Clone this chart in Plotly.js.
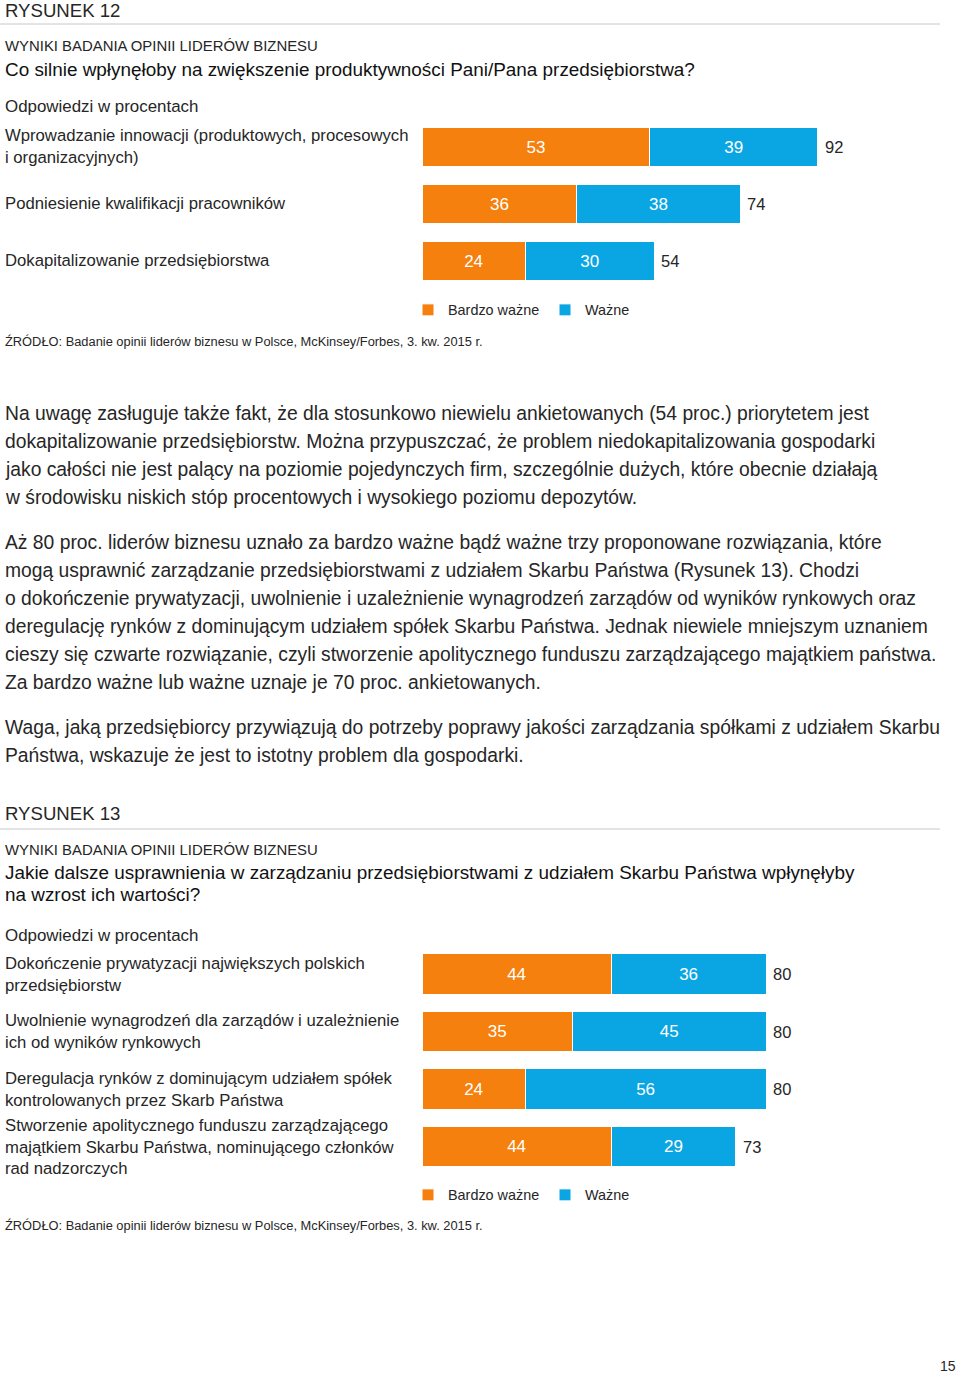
<!DOCTYPE html>
<html><head><meta charset="utf-8">
<script src="https://cdn.plot.ly/plotly-3.0.1.min.js"></script>
<style>body{margin:0;background:#fff}#chart{width:960px;height:1375px}</style>
</head><body><div id="chart"></div>
<script>
// ---- data ----
const cats1 = ["Wprowadzanie innowacji (produktowych, procesowych<br>i organizacyjnych)", "Podniesienie kwalifikacji pracowników", "Dokapitalizowanie przedsiębiorstwa"];
const bardzo1 = [53, 36, 24];
const wazne1 = [39, 38, 30];
const total1 = [92, 74, 54];
const cats2 = ["Dokończenie prywatyzacji największych polskich<br>przedsiębiorstw", "Uwolnienie wynagrodzeń dla zarządów i uzależnienie<br>ich od wyników rynkowych", "Deregulacja rynków z dominującym udziałem spółek<br>kontrolowanych przez Skarb Państwa", "Stworzenie apolitycznego funduszu zarządzającego<br>majątkiem Skarbu Państwa, nominującego członków<br>rad nadzorczych"];
const bardzo2 = [44, 35, 24, 44];
const wazne2 = [36, 45, 56, 29];
const total2 = [80, 80, 80, 73];
const seriesNames = ["Bardzo ważne", "Ważne"];

const W = 960, H = 1375;
const px = x => x / W, py = y => 1 - y / H;
const ORANGE = "#F5800E", BLUE = "#0AA6E3";
const FONT = "Liberation Sans, Arial, sans-serif";
const TXT = "#262626";

function barTrace(vals, cats, name, color, xa, ya, leg) {
  return {
    type: "bar", orientation: "h", x: vals, y: cats.map((c, i) => i), name: name,
    xaxis: xa, yaxis: ya, legend: leg, width: 0.7,
    marker: {color: color, line: {color: "#fff", width: 1}},
    text: vals.map(String), textposition: "inside", insidetextanchor: "middle",
    textfont: {color: "#fff", size: 17, family: FONT}, hoverinfo: "skip", cliponaxis: false
  };
}
const data = [
  barTrace(bardzo1, cats1, seriesNames[0], ORANGE, "x", "y", "legend"),
  barTrace(wazne1, cats1, seriesNames[1], BLUE, "x", "y", "legend"),
  barTrace(bardzo2, cats2, seriesNames[0], ORANGE, "x2", "y2", "legend2"),
  barTrace(wazne2, cats2, seriesNames[1], BLUE, "x2", "y2", "legend2")
];

const ann = [];
function txt(t, x, y, size, color, extra) {
  ann.push(Object.assign({text: t, x: px(x), y: py(y), xref: "paper", yref: "paper", xanchor: "left", yanchor: "middle",
    showarrow: false, align: "left", font: {family: FONT, size: size, color: color || TXT}}, extra || {}));
}
const CAT = 16.7;
// chart 1 header
txt("RYSUNEK 12", 3, 10.5, 18.6);
txt("WYNIKI BADANIA OPINII LIDERÓW BIZNESU", 3, 46, 14.9);
txt("Co silnie wpłynęłoby na zwiększenie produktywności Pani/Pana przedsiębiorstwa?", 3, 69, 18.9, "#111");
txt("Odpowiedzi w procentach", 3, 107, 16.9);
txt("ŹRÓDŁO: Badanie opinii liderów biznesu w Polsce, McKinsey/Forbes, 3. kw. 2015 r.", 3, 341, 12.85);
// category labels & totals
cats1.forEach((c, i) => {
  ann.push({text: c, x: px(3), xref: "paper", y: i, yref: "y", xanchor: "left", yanchor: "middle", align: "left", showarrow: false, font: {family: FONT, size: CAT, color: TXT}});
  ann.push({text: String(total1[i]), x: total1[i], xref: "x", y: i, yref: "y", xanchor: "left", yanchor: "middle", xshift: 5, showarrow: false, font: {family: FONT, size: 16.5, color: TXT}});
});
cats2.forEach((c, i) => {
  ann.push({text: c, x: px(3), xref: "paper", y: i, yref: "y2", xanchor: "left", yanchor: "middle", align: "left", showarrow: false, font: {family: FONT, size: CAT, color: TXT}});
  ann.push({text: String(total2[i]), x: total2[i], xref: "x2", y: i, yref: "y2", xanchor: "left", yanchor: "middle", xshift: 5, showarrow: false, font: {family: FONT, size: 16.5, color: TXT}});
});
// body text
const p1 = ["Na uwagę zasługuje także fakt, że dla stosunkowo niewielu ankietowanych (54 proc.) priorytetem jest",
  "dokapitalizowanie przedsiębiorstw. Można przypuszczać, że problem niedokapitalizowania gospodarki",
  "jako całości nie jest palący na poziomie pojedynczych firm, szczególnie dużych, które obecnie działają",
  "w środowisku niskich stóp procentowych i wysokiego poziomu depozytów."];
const p2 = ["Aż 80 proc. liderów biznesu uznało za bardzo ważne bądź ważne trzy proponowane rozwiązania, które",
  "mogą usprawnić zarządzanie przedsiębiorstwami z udziałem Skarbu Państwa (Rysunek 13). Chodzi",
  "o dokończenie prywatyzacji, uwolnienie i uzależnienie wynagrodzeń zarządów od wyników rynkowych oraz",
  "deregulację rynków z dominującym udziałem spółek Skarbu Państwa. Jednak niewiele mniejszym uznaniem",
  "cieszy się czwarte rozwiązanie, czyli stworzenie apolitycznego funduszu zarządzającego majątkiem państwa.",
  "Za bardzo ważne lub ważne uznaje je 70 proc. ankietowanych."];
const p3 = ["Waga, jaką przedsiębiorcy przywiązują do potrzeby poprawy jakości zarządzania spółkami z udziałem Skarbu",
  "Państwa, wskazuje że jest to istotny problem dla gospodarki."];
const BODY = 19.3;
p1.forEach((l, i) => txt(l, 3, 413 + 28 * i, BODY));
p2.forEach((l, i) => txt(l, 3, 542 + 28 * i, BODY));
p3.forEach((l, i) => txt(l, 3, 727 + 28 * i, BODY));
// chart 2 header
txt("RYSUNEK 13", 3, 813, 18.6);
txt("WYNIKI BADANIA OPINII LIDERÓW BIZNESU", 3, 850, 14.9);
txt("Jakie dalsze usprawnienia w zarządzaniu przedsiębiorstwami z udziałem Skarbu Państwa wpłynęłyby", 3, 872, 18.9, "#111");
txt("na wzrost ich wartości?", 3, 894, 18.9, "#111");
txt("Odpowiedzi w procentach", 3, 935, 16.9);
txt("ŹRÓDŁO: Badanie opinii liderów biznesu w Polsce, McKinsey/Forbes, 3. kw. 2015 r.", 3, 1225, 12.85);
txt("15", 958, 1366, 14, TXT, {xanchor: "right"});

const xdom = [px(422), px(422 + 430)];
const axX = {domain: xdom, range: [0, 100], visible: false, fixedrange: true};
const legFont = {family: FONT, size: 14.4, color: TXT};
const layout = {
  width: W, height: H, margin: {l: 0, r: 0, t: 0, b: 0},
  paper_bgcolor: "#fff", plot_bgcolor: "rgba(0,0,0,0)",
  barmode: "stack", bargap: 0.3,
  font: {family: FONT, color: TXT},
  xaxis: Object.assign({}, axX, {anchor: "y"}),
  yaxis: {domain: [py(289.5), py(118.5)], range: [2.5, -0.5], visible: false, anchor: "x", fixedrange: true},
  xaxis2: Object.assign({}, axX, {anchor: "y2"}),
  yaxis2: {domain: [py(1175.25), py(945.25)], range: [3.5, -0.5], visible: false, anchor: "x2", fixedrange: true},
  legend: {orientation: "h", x: px(408), y: py(310), xanchor: "left", yanchor: "middle", entrywidth: 92,
    font: legFont, bgcolor: "rgba(0,0,0,0)", traceorder: "normal"},
  legend2: {orientation: "h", x: px(408), y: py(1195), xanchor: "left", yanchor: "middle", entrywidth: 92,
    font: legFont, bgcolor: "rgba(0,0,0,0)", traceorder: "normal"},
  showlegend: true,
  annotations: ann,
  shapes: [
    {type: "line", xref: "paper", yref: "paper", x0: 0, x1: px(940), y0: py(24), y1: py(24), line: {color: "#c8c8c8", width: 1}},
    {type: "line", xref: "paper", yref: "paper", x0: 0, x1: px(940), y0: py(829), y1: py(829), line: {color: "#c8c8c8", width: 1}}
  ]
};
Plotly.newPlot("chart", data, layout, {staticPlot: true, displayModeBar: false});
</script></body></html>
